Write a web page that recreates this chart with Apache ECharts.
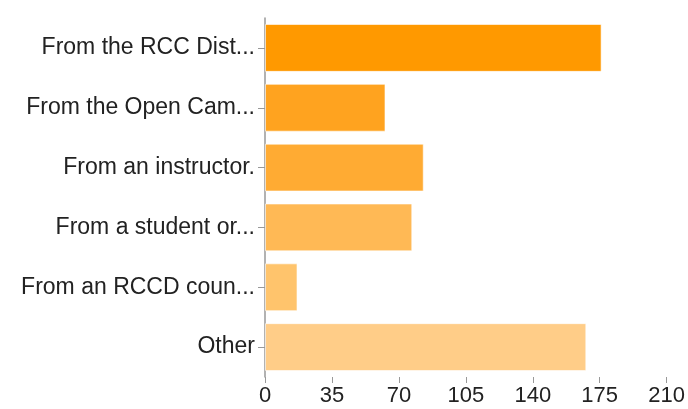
<!DOCTYPE html>
<html><head><meta charset="utf-8">
<script src="https://cdn.jsdelivr.net/npm/echarts@6/dist/echarts.min.js"></script>
<style>html,body{margin:0;padding:0;background:#fff}#c{width:688px;height:409px}</style>
</head><body><div id="c"></div>
<script>
const categories = ["From the RCC Dist...", "From the Open Cam...", "From an instructor.", "From a student or...", "From an RCCD coun...", "Other"];
const values = [176, 63, 83, 77, 17, 168];
const barColors = ["#FF9900", "#FFA31F", "#FFAB33", "#FFB955", "#FFC46C", "#FFCD88"];
const xTicks = [0, 35, 70, 105, 140, 175, 210];

const chart = echarts.init(document.getElementById('c'));
chart.setOption({
  animation: false,
  grid: {left: 265, right: 20, top: 18, bottom: 32},
  xAxis: {
    type: 'value', min: xTicks[0], max: xTicks[xTicks.length-1], interval: 35,
    axisLine: {show: false},
    axisTick: {show: true, length: 6, lineStyle: {color: '#999'}},
    splitLine: {show: false},
    axisLabel: {fontSize: 22, color: '#222', fontFamily: 'Liberation Sans, Arial', margin: 8}
  },
  yAxis: {
    type: 'category', data: categories, inverse: true,
    axisLine: {show: true, lineStyle: {color: '#999', width: 1.5}},
    axisTick: {show: true, alignWithLabel: true, length: 7, lineStyle: {color: '#999'}},
    axisLabel: {fontSize: 23, color: '#222', fontFamily: 'Liberation Sans, Arial', margin: 10}
  },
  series: [{
    type: 'bar',
    data: values.map((v, i) => ({value: v, itemStyle: {color: barColors[i]}})),
    barCategoryGap: '20%',
    itemStyle: {borderColor: 'rgba(255,255,255,0.6)', borderWidth: 1}
  }]
});
</script></body></html>
